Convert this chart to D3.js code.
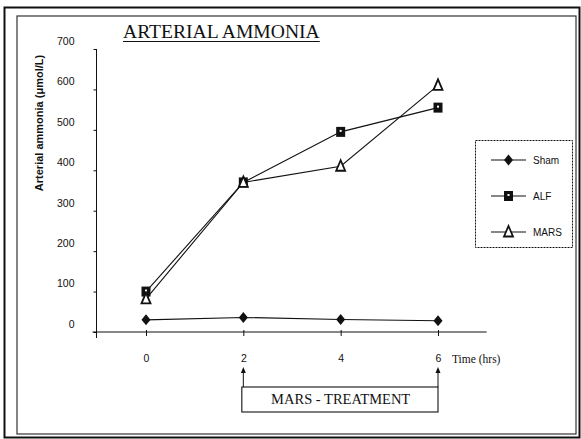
<!DOCTYPE html>
<html>
<head>
<meta charset="utf-8">
<script src="https://cdn.jsdelivr.net/npm/d3@7"></script>
<style>
  html, body { margin: 0; padding: 0; background: #fff; }
  svg { display: block; }
  .sans { font-family: "Liberation Sans", Arial, sans-serif; }
  .serif { font-family: "Liberation Serif", "Times New Roman", serif; }
</style>
</head>
<body>
<svg id="chart" width="581" height="439"></svg>
<script>
// Arterial ammonia (µmol/L) measured at 0, 2, 4 and 6 hours
const hours = [0, 2, 4, 6];
const sham = [30, 36, 31, 28];
const alf = [100, 370, 495, 555];
const mars = [82, 370, 410, 610];
const seriesNames = ["Sham", "ALF", "MARS"];
const yTicks = [0, 100, 200, 300, 400, 500, 600, 700];

const svg = d3.select("#chart");
const ink = "#111";

// page frames
svg.append("rect").attr("x", 4.5).attr("y", 7.5).attr("width", 575).attr("height", 430)
  .attr("fill", "none").attr("stroke", ink).attr("stroke-width", 2);
svg.append("rect").attr("x", 17).attr("y", 16).attr("width", 559).attr("height", 418)
  .attr("fill", "none").attr("stroke", "#333").attr("stroke-width", 1.2);

const x = d3.scaleLinear().domain([0, 6]).range([146, 438]);
const y = d3.scaleLinear().domain([0, 700]).range([332, 49]);
const axisX = 96.5;

// title
const title = svg.append("text").attr("class", "serif")
  .attr("x", 123).attr("y", 38).attr("font-size", 19.6).attr("fill", ink)
  .text("ARTERIAL AMMONIA");
const tw = title.node().getComputedTextLength();
svg.append("line").attr("x1", 123).attr("x2", 123 + tw).attr("y1", 41.5).attr("y2", 41.5)
  .attr("stroke", ink).attr("stroke-width", 1.2);

// y axis
const gy = svg.append("g").attr("transform", `translate(${axisX},0)`)
  .call(d3.axisLeft(y).tickValues(yTicks).tickSize(3).tickSizeOuter(0));
gy.select(".domain").remove();
gy.selectAll(".tick line").attr("stroke", ink);
gy.selectAll(".tick text").attr("class", "sans").attr("font-size", 10.5)
  .attr("x", -22).attr("y", -8).attr("fill", ink);
svg.append("line").attr("x1", axisX).attr("x2", axisX).attr("y1", y(700)).attr("y2", y(0) + 6)
  .attr("stroke", ink).attr("stroke-width", 1);

// x axis
const gx = svg.append("g").attr("transform", `translate(0,${y(0)})`)
  .call(d3.axisBottom(x).tickValues(hours).tickFormat(d3.format("d")).tickSizeInner(4).tickSizeOuter(0));
gx.select(".domain").remove();
gx.selectAll(".tick line").attr("y1", -2).attr("stroke", ink);
gx.selectAll(".tick text").attr("class", "sans").attr("font-size", 10.5)
  .attr("y", 23).attr("fill", ink);
svg.append("line").attr("x1", x(-1.1)).attr("x2", x(7)).attr("y1", y(0)).attr("y2", y(0))
  .attr("stroke", ink).attr("stroke-width", 1);
svg.append("text").attr("class", "serif").attr("x", 452).attr("y", 363)
  .attr("font-size", 11.5).attr("fill", ink).text("Time (hrs)");

// y axis title
svg.append("text").attr("class", "sans")
  .attr("transform", "translate(43,123) rotate(-90)")
  .attr("text-anchor", "middle").attr("font-size", 11).attr("font-weight", "bold")
  .attr("fill", ink).text("Arterial ammonia (\u03bcmol/L)");

// markers
function drawMarker(g, kind, cx, cy) {
  if (kind === "Sham") {
    g.append("path").attr("d", `M${cx},${cy - 5.5}L${cx + 4.5},${cy}L${cx},${cy + 5.5}L${cx - 4.5},${cy}Z`)
      .attr("fill", ink);
  } else if (kind === "ALF") {
    g.append("rect").attr("x", cx - 4.5).attr("y", cy - 5).attr("width", 9).attr("height", 10)
      .attr("fill", ink);
    g.append("rect").attr("x", cx - 1).attr("y", cy - 2).attr("width", 2).attr("height", 2)
      .attr("fill", "#fff");
  } else {
    g.append("path").attr("d", `M${cx},${cy - 6}L${cx + 4.5},${cy + 4.5}L${cx - 4.5},${cy + 4.5}Z`)
      .attr("fill", "#fff").attr("stroke", ink).attr("stroke-width", 1.8);
  }
}

const series = [
  { name: "Sham", values: sham },
  { name: "ALF", values: alf },
  { name: "MARS", values: mars }
];
const line = d3.line().x((d, i) => x(hours[i])).y(d => y(d));

series.forEach(s => {
  svg.append("path").datum(s.values).attr("d", line)
    .attr("fill", "none").attr("stroke", ink).attr("stroke-width", 1.1);
});
series.forEach(s => {
  const g = svg.append("g");
  s.values.forEach((v, i) => drawMarker(g, s.name, x(hours[i]), y(v)));
});

// legend
const legend = svg.append("g");
legend.append("rect").attr("x", 475.5).attr("y", 140.5).attr("width", 97).attr("height", 107)
  .attr("fill", "#fff").attr("stroke", ink).attr("stroke-width", 1).attr("stroke-dasharray", "2,1");
seriesNames.forEach((name, i) => {
  const ly = 160 + i * 36;
  legend.append("line").attr("x1", 491).attr("x2", 526).attr("y1", ly).attr("y2", ly)
    .attr("stroke", ink).attr("stroke-width", 1.1);
  drawMarker(legend, name, 508.5, ly);
  legend.append("text").attr("class", "sans").attr("x", 533).attr("y", ly + 3.5)
    .attr("font-size", 10).attr("fill", ink).text(name);
});

// treatment window annotation
const tx0 = x(2), tx1 = x(6);
const box = svg.append("g");
box.append("rect").attr("x", tx0 - 1.5).attr("y", 387).attr("width", tx1 - tx0 + 1.5).attr("height", 25)
  .attr("fill", "none").attr("stroke", ink).attr("stroke-width", 1.1);
[tx0, tx1].forEach(ax => {
  box.append("line").attr("x1", ax).attr("x2", ax).attr("y1", 387).attr("y2", 371)
    .attr("stroke", ink).attr("stroke-width", 1);
  box.append("path").attr("d", `M${ax},${367}L${ax + 2.5},${373}L${ax - 2.5},${373}Z`).attr("fill", ink);
});
box.append("text").attr("class", "serif").attr("x", (tx0 + tx1) / 2).attr("y", 404)
  .attr("text-anchor", "middle").attr("font-size", 14.5).attr("fill", ink)
  .text("MARS - TREATMENT");
</script>
</body>
</html>
